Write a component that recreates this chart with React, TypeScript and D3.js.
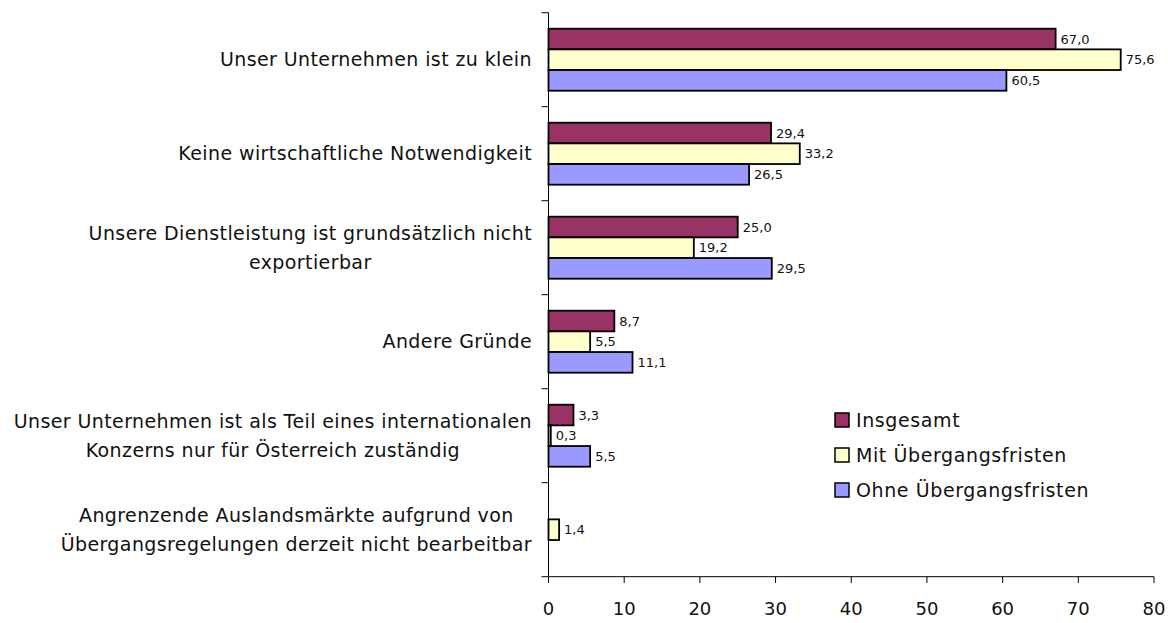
import React, { useEffect, useRef } from "react";
import * as d3 from "d3";

const categories: string[][] = [
  ["Unser Unternehmen ist zu klein"],
  ["Keine wirtschaftliche Notwendigkeit"],
  ["Unsere Dienstleistung ist grundsätzlich nicht", "exportierbar"],
  ["Andere Gründe"],
  ["Unser Unternehmen ist als Teil eines internationalen", "Konzerns nur für Österreich zuständig"],
  ["Angrenzende Auslandsmärkte aufgrund von", "Übergangsregelungen derzeit nicht bearbeitbar"],
];
const seriesNames = ["Insgesamt", "Mit Übergangsfristen", "Ohne Übergangsfristen"];
const insgesamt: (number | null)[] = [67.0, 29.4, 25.0, 8.7, 3.3, null];
const mitFristen: (number | null)[] = [75.6, 33.2, 19.2, 5.5, 0.3, 1.4];
const ohneFristen: (number | null)[] = [60.5, 26.5, 29.5, 11.1, 5.5, null];
const xTicks = [0, 10, 20, 30, 40, 50, 60, 70, 80];
const colors = ["#993366", "#FFFFCC", "#9999FF"];

const W = 1168;
const H = 623;
const FONT = "'DejaVu Sans', sans-serif";

export default function App() {
  const ref = useRef<SVGSVGElement | null>(null);

  useEffect(() => {
    const svg = d3.select(ref.current);
    svg.selectAll("*").remove();

    const x = d3.scaleLinear().domain([0, 80]).range([548.5, 1154]);
    const y = d3
      .scaleBand<number>()
      .domain(categories.map((_, i) => i))
      .range([12.7, 576.7])
      .paddingInner(0)
      .paddingOuter(0);
    const inner = d3
      .scaleBand<number>()
      .domain([0, 1, 2])
      .range([16, y.bandwidth() - 16]);

    const series = [insgesamt, mitFristen, ohneFristen];
    const fmt = (v: number) => d3.format(".1f")(v).replace(".", ",");

    const g = svg.append("g");

    // bars
    series.forEach((vals, si) => {
      vals.forEach((v, ci) => {
        if (v === null) return;
        const by = (y(ci) as number) + (inner(si) as number);
        g.append("rect")
          .attr("x", x(0))
          .attr("y", by)
          .attr("width", Math.max(x(v) - x(0), 0))
          .attr("height", inner.bandwidth())
          .attr("fill", colors[si])
          .attr("stroke", "#000")
          .attr("stroke-width", 1.8);
        g.append("text")
          .attr("x", x(v) + 5)
          .attr("y", by + inner.bandwidth() / 2)
          .attr("dy", "0.35em")
          .attr("font-family", FONT)
          .attr("font-size", 13)
          .attr("fill", "#111")
          .text(fmt(v));
      });
    });

    // y axis
    g.append("line")
      .attr("x1", x(0)).attr("x2", x(0))
      .attr("y1", 12.7).attr("y2", 576.7)
      .attr("stroke", "#000").attr("stroke-width", 1);
    for (let i = 0; i <= categories.length; i++) {
      const ty = i < categories.length ? (y(i) as number) : 576.7;
      g.append("line")
        .attr("x1", x(0) - 7).attr("x2", x(0))
        .attr("y1", ty).attr("y2", ty)
        .attr("stroke", "#000");
    }

    // x axis
    g.append("line")
      .attr("x1", x(0)).attr("x2", x(80))
      .attr("y1", 576.7).attr("y2", 576.7)
      .attr("stroke", "#000");
    xTicks.forEach((t) => {
      g.append("line")
        .attr("x1", x(t)).attr("x2", x(t))
        .attr("y1", 576.7).attr("y2", 583)
        .attr("stroke", "#000");
      g.append("text")
        .attr("x", x(t))
        .attr("y", 609)
        .attr("dy", "0.35em")
        .attr("text-anchor", "middle")
        .attr("font-family", FONT)
        .attr("font-size", 18)
        .attr("fill", "#111")
        .text(String(t));
    });

    // category labels
    const lineH = 29;
    const rightEdge = 532;
    categories.forEach((lines, ci) => {
      const cy = (y(ci) as number) + y.bandwidth() / 2;
      const texts = lines.map((ln, li) =>
        g.append("text")
          .attr("y", cy + (li - (lines.length - 1) / 2) * lineH)
          .attr("dy", "0.35em")
          .attr("text-anchor", "middle")
          .attr("font-family", FONT)
          .attr("font-size", 19)
          .attr("letter-spacing", 0.4)
          .attr("fill", "#111")
          .text(ln)
      );
      const widths = texts.map((t) => (t.node() as SVGTextElement).getComputedTextLength());
      const maxW = Math.max(...widths);
      texts.forEach((t) => t.attr("x", rightEdge - maxW / 2));
    });

    // legend
    const legendRows = [420, 455, 490];
    seriesNames.forEach((name, si) => {
      g.append("rect")
        .attr("x", 835)
        .attr("y", legendRows[si] - 7)
        .attr("width", 14)
        .attr("height", 14)
        .attr("fill", colors[si])
        .attr("stroke", "#000")
        .attr("stroke-width", 1.5);
      g.append("text")
        .attr("x", 856)
        .attr("y", legendRows[si])
        .attr("dy", "0.35em")
        .attr("font-family", FONT)
        .attr("font-size", 19)
        .attr("letter-spacing", 0.6)
        .attr("fill", "#111")
        .text(name);
    });
  }, []);

  return (
    <svg
      ref={ref}
      width={W}
      height={H}
      style={{ position: "absolute", left: 0, top: 0, background: "#fff" }}
    />
  );
}
